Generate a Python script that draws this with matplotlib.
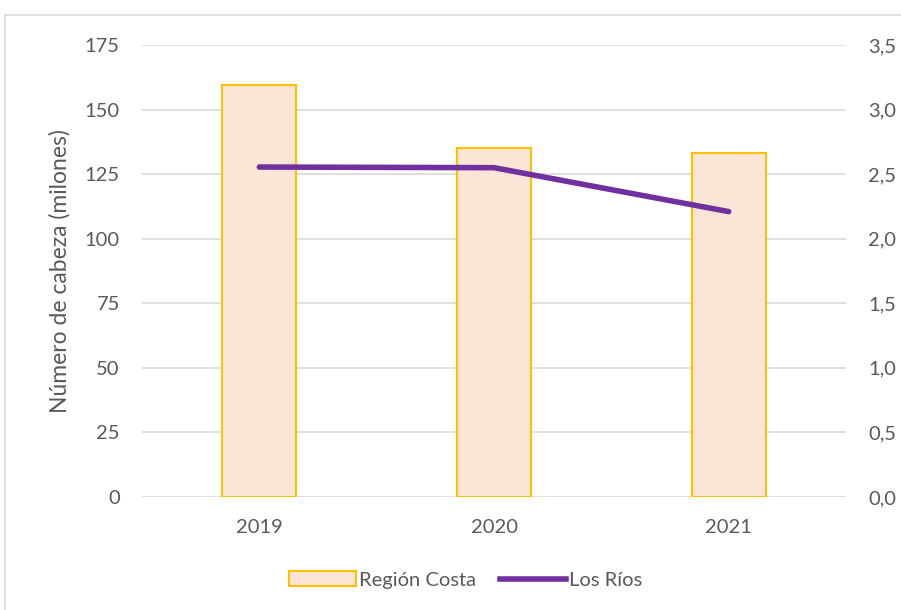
import numpy as np
import matplotlib.pyplot as plt
from matplotlib.patches import Rectangle, Patch
from matplotlib.lines import Line2D
from matplotlib.ticker import FuncFormatter

years = ['2019', '2020', '2021']
region_costa = [159.5, 135.0, 133.0]
los_rios = [2.555, 2.55, 2.21]

plt.rcParams['font.family'] = ['Lato', 'DejaVu Sans']
txt = '#595959'

fig = plt.figure(figsize=(9.01, 6.10), dpi=100)
fig.patches.append(Rectangle((5 / 901, -0.1), 1.2, 1 - 15 / 610 + 0.1, transform=fig.transFigure,
                             fill=False, edgecolor='#d9d9d9', linewidth=1.2))
ax = fig.add_axes([142 / 901, 1 - 497 / 610, 704 / 901, 452 / 610])
x = np.arange(len(years))
ax.bar(x, region_costa, width=0.315, color='#fbe5d6', edgecolor='#ffc000', linewidth=1.5, zorder=2)
ax.set_xlim(-0.5, 2.5)
ax.set_ylim(0, 175)
ax.set_yticks(np.arange(0, 176, 25))
ax.set_xticks(x)
ax.set_xticklabels(years)
ax.grid(axis='y', color='#d9d9d9', linewidth=1.2, zorder=0)
ax.set_axisbelow(True)
for s in ax.spines.values():
    s.set_visible(False)
ax.tick_params(length=0, labelsize=14.5, colors=txt, pad=16)
ax.tick_params(axis='y', pad=16)
ax.set_ylabel('Número de cabeza (milones)', fontsize=16.5, color=txt, labelpad=10)

ax2 = ax.twinx()
ax2.plot(x, los_rios, color='#7030a0', linewidth=4, solid_capstyle='round', zorder=3)
ax2.set_ylim(0, 3.5)
ax2.set_yticks(np.arange(0, 3.51, 0.5))
ax2.yaxis.set_major_formatter(FuncFormatter(lambda v, p: f'{v:.1f}'.replace('.', ',')))
for s in ax2.spines.values():
    s.set_visible(False)
ax2.tick_params(length=0, labelsize=14.5, colors=txt, pad=16)

handles = [Patch(facecolor='#fbe5d6', edgecolor='#ffc000', linewidth=1.5, label='Región Costa'),
           Line2D([0], [0], color='#7030a0', linewidth=4, label='Los Ríos')]
fig.legend(handles=handles, loc='center', bbox_to_anchor=(466 / 901, 1 - 580 / 610), ncol=2,
           frameon=False, fontsize=14.5, labelcolor=txt, handlelength=3.3, columnspacing=1.2,
           handletextpad=0.15)

fig.savefig('out.png', dpi=100)
